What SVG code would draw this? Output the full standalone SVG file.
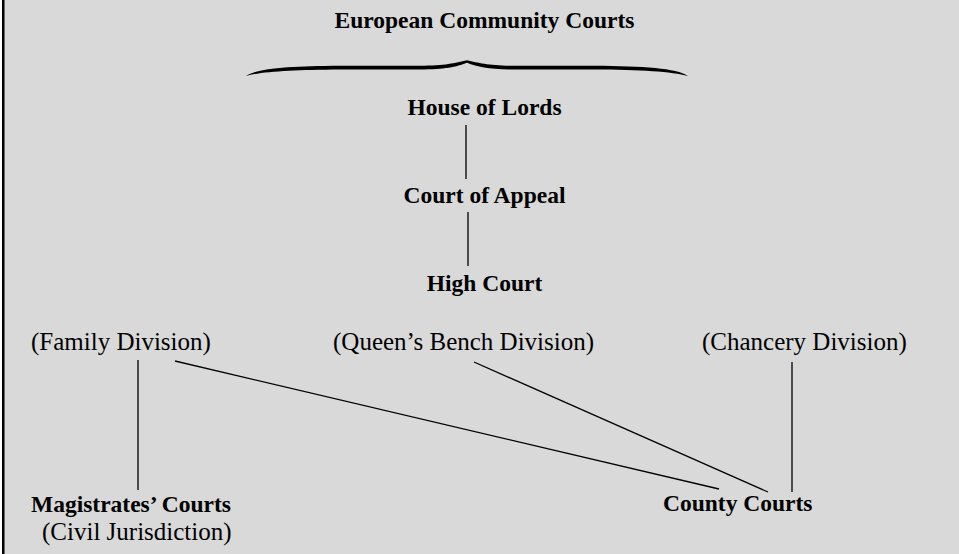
<svg xmlns="http://www.w3.org/2000/svg" width="959" height="554" viewBox="0 0 959 554">
<style>
.b{font-family:"Liberation Serif","Times New Roman",serif;font-weight:bold;font-size:23.5px;fill:#000}
.r{font-family:"Liberation Serif","Times New Roman",serif;font-size:25px;fill:#000}
.c{text-anchor:middle}
.ln{stroke:#000;stroke-width:1.3;fill:none}
</style>
<rect x="0" y="0" width="959" height="554" fill="#ffffff"/>
<rect x="2" y="0" width="957" height="554" fill="#d9d9d9"/>
<rect x="2" y="0" width="2.5" height="554" fill="#000"/>
<g id="european-community-courts">
<text class="b c" x="484.5" y="28">European Community Courts</text>
<path d="M246,76 C258,68 290,66.3 340,65.8 L420,65.8 C445,65.8 455,63 467,60.3 C479,63 489,65.8 514,65.8 L594,65.8 C644,66.3 676,68 688,76 C672,71.5 640,69.8 594,69.5 L514,69.5 C489,69.5 478,67 467,62.8 C456,67 445,69.5 420,69.5 L340,69.5 C294,69.8 262,71.5 246,76 Z" fill="#000"/>
</g>
<g id="house-of-lords"><text class="b c" x="484.5" y="115">House of Lords</text></g>
<g id="court-of-appeal"><text class="b c" x="484.5" y="203">Court of Appeal</text></g>
<g id="high-court"><text class="b c" x="484.5" y="291">High Court</text></g>
<g id="family-division"><text class="r" x="31" y="350">(Family Division)</text></g>
<g id="queens-bench-division"><text class="r" x="333" y="350">(Queen’s Bench Division)</text></g>
<g id="chancery-division"><text class="r" x="702" y="350">(Chancery Division)</text></g>
<g id="magistrates-courts">
<text class="b" x="31" y="512">Magistrates’ Courts</text>
<text class="r" x="42" y="540">(Civil Jurisdiction)</text>
</g>
<g id="county-courts"><text class="b" x="663" y="511">County Courts</text></g>
<g id="connectors" class="ln">
<line x1="466" y1="125" x2="466" y2="179"/>
<line x1="468" y1="212" x2="468" y2="266"/>
<line x1="138" y1="360" x2="138" y2="490"/>
<line x1="175" y1="361" x2="719" y2="489"/>
<line x1="474" y1="362" x2="768" y2="492"/>
<line x1="792" y1="362" x2="792" y2="492"/>
</g>
</svg>
